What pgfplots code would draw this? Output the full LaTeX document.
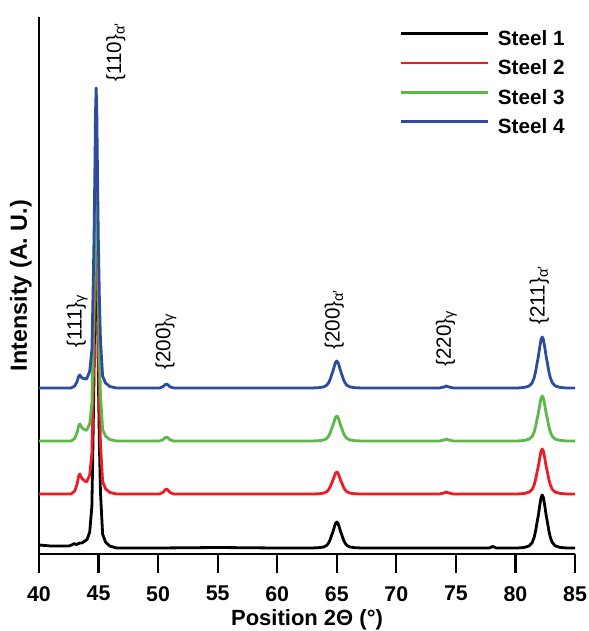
\documentclass[border=0pt]{standalone}
\usepackage{pgfplots}
\pgfplotsset{compat=1.18}
\usepackage{fontspec}
\setmainfont{Liberation Sans}

\definecolor{steelred}{RGB}{237,28,36}
\definecolor{steelgreen}{RGB}{93,184,74}
\definecolor{steelblue}{RGB}{45,75,160}

\begin{document}
\begin{tikzpicture}
\begin{axis}[
    scale only axis,
    width=402pt, height=402.75pt,
    xmin=40, xmax=85, ymin=2, ymax=539,
    axis lines=left,
    axis line style={-, line width=1.8pt},
    xtick={40,45,...,85},
    ytick=\empty,
    tick align=outside,
    major tick length=14pt,
    tick style={line width=1.6pt, black},
    /pgf/number format/assume math mode=true,
    xticklabel style={font=\bfseries\fontsize{16}{19}\selectfont, inner sep=1pt, yshift=-9pt},
    xlabel={\bfseries Position 2Θ (°)},
    ylabel={\bfseries Intensity (A. U.)},
    every axis x label/.style={at={(axis description cs:0.5,-0.134)}, anchor=base, inner sep=0pt, font=\fontsize{16.5}{19}\selectfont},
    every axis y label/.style={at={(axis description cs:-0.0224,0.5)}, rotate=90, anchor=base, inner sep=0pt, font=\fontsize{17.5}{20}\selectfont},
    legend style={at={(0.981,0.972)}, anchor=north east, draw=none, fill=none, inner sep=0pt,
        font=\bfseries\fontsize{15.5}{18}\selectfont,
        nodes={inner sep=0pt, text height=10pt, text depth=0pt},
        row sep=12pt,
        /tikz/every odd column/.append style={column sep=6.75pt}},
    legend cell align=left,
    legend image code/.code={\draw[#1, line width=2pt] (0pt,4pt) -- (65pt,4pt);},
    every axis plot/.append style={line width=2.1pt, line join=round},
    clip=false,
]
% Steel 1
\addplot[black] coordinates {
(40,11) (41,10) (42,10) (42.5,10) (42.75,11) (42.95,12.5) (43.1,11.5) (43.25,12) (43.43,13) (43.6,13)
(43.8,14.5) (43.97,16) (44.05,17) (44.26,24) (44.44,50) (44.53,112) (44.62,182) (44.69,259) (44.746,328)
(44.8,356) (44.854,328) (44.91,259) (44.98,182) (45.07,112) (45.16,64) (45.34,22) (45.58,14) (45.94,10)
(46.5,8) (50,8) (55,8.5) (60,8)
(62.9,8) (63.47,8.3) (63.9,9) (64.15,10.6) (64.32,13.2) (64.45,16.6) (64.575,21) (64.66,23.6) (64.79,28.8)
(64.9,32.7) (65.0,34) (65.1,32.7) (65.21,28.8) (65.34,23.6) (65.425,21) (65.55,16.6) (65.68,13.2)
(65.85,10.6) (66.1,9) (66.53,8.3) (67.1,8) (72,8) (77.8,8) (78.1,9.5) (78.4,8)
(80.15,8) (80.72,8.5) (81.15,10.1) (81.4,13.3) (81.57,18.6) (81.7,25.5) (81.825,34.5) (81.91,39.8)
(82.04,50.4) (82.15,58.4) (82.25,61) (82.35,58.4) (82.46,50.4) (82.59,39.8) (82.675,34.5) (82.8,25.5)
(82.93,18.6) (83.1,13.3) (83.35,10.1) (83.78,8.5) (84.35,8) (85,8)
};
\addlegendentry{Steel 1}
% Steel 2
\addplot[steelred] coordinates {
(40,62) (42.7,62) (43.0,65) (43.2,72) (43.33,80) (43.43,82) (43.53,79) (43.65,77) (43.8,75.6) (43.97,74.1)
(44.05,75.3) (44.26,81.1) (44.44,102.7) (44.53,156.2) (44.62,219) (44.69,288) (44.746,351) (44.8,376)
(44.854,351) (44.91,288) (44.98,219) (45.07,156.2) (45.16,112.2) (45.34,74.6) (45.58,67.3) (45.94,63.6)
(46.5,62) (50.1,62) (50.4,63.5) (50.58,66) (50.7,67) (50.82,66) (51.0,63.5) (51.3,62)
(62.9,62) (63.47,62.2) (63.9,62.9) (64.15,64.2) (64.32,66.4) (64.45,69.3) (64.575,73) (64.66,75.2)
(64.79,79.6) (64.9,82.9) (65.0,84) (65.1,82.9) (65.21,79.6) (65.34,75.2) (65.425,73) (65.55,69.3)
(65.68,66.4) (65.85,64.2) (66.1,62.9) (66.53,62.2) (67.1,62) (73.6,62) (74.0,63) (74.2,64) (74.4,63) (74.8,62)
(80.15,62) (80.72,62.5) (81.15,63.8) (81.4,66.5) (81.57,71) (81.7,76.9) (81.825,84.5) (81.91,89) (82.04,98)
(82.15,104.8) (82.25,107) (82.35,104.8) (82.46,98) (82.59,89) (82.675,84.5) (82.8,76.9) (82.93,71)
(83.1,66.5) (83.35,63.8) (83.78,62.5) (84.35,62) (85,62)
};
\addlegendentry{Steel 2}
% Steel 3
\addplot[steelgreen] coordinates {
(40,115) (42.7,115) (43.0,117.6) (43.2,123.5) (43.33,130.3) (43.43,132) (43.53,129.5) (43.65,127.8)
(43.8,126.7) (43.97,125.6) (44.05,126.8) (44.26,132.4) (44.44,152.5) (44.53,202.3) (44.62,260.5)
(44.69,324.5) (44.746,382.7) (44.8,406) (44.854,382.7) (44.91,324.5) (44.98,260.5) (45.07,202.3)
(45.16,161.6) (45.34,126.6) (45.58,119.9) (45.94,116.5) (46.5,115) (50.1,115) (50.4,116.2) (50.58,118.2)
(50.7,119) (50.82,118.2) (51.0,116.2) (51.3,115)
(62.9,115) (63.47,115.3) (63.9,116) (64.15,117.5) (64.32,120) (64.45,123.3) (64.575,127.5) (64.66,130)
(64.79,135) (64.9,138.8) (65.0,140) (65.1,138.8) (65.21,135) (65.34,130) (65.425,127.5) (65.55,123.3)
(65.68,120) (65.85,117.5) (66.1,116) (66.53,115.3) (67.1,115) (73.6,115) (74.0,116) (74.2,117)
(74.4,116) (74.8,115)
(80.15,115) (80.72,115.5) (81.15,116.8) (81.4,119.5) (81.57,124) (81.7,129.9) (81.825,137.5) (81.91,142)
(82.04,151) (82.15,157.8) (82.25,160) (82.35,157.8) (82.46,151) (82.59,142) (82.675,137.5) (82.8,129.9)
(82.93,124) (83.1,119.5) (83.35,116.8) (83.78,115.5) (84.35,115) (85,115)
};
\addlegendentry{Steel 3}
% Steel 4
\addplot[steelblue] coordinates {
(40,168) (42.7,168) (43.0,170) (43.2,174.5) (43.33,179.7) (43.43,181) (43.53,179) (43.65,177.8)
(43.8,177.3) (43.97,176.9) (44.05,178.6) (44.26,184.8) (44.44,206) (44.53,258) (44.62,318) (44.69,384)
(44.746,444) (44.8,468) (44.854,444) (44.91,384) (44.98,318) (45.07,258) (45.16,216) (45.34,180)
(45.58,173.1) (45.94,169.5) (46.5,168) (50.1,168) (50.4,169.2) (50.58,171.2) (50.7,172) (50.82,171.2)
(51.0,169.2) (51.3,168)
(62.9,168) (63.47,168.3) (63.9,169.1) (64.15,170.7) (64.32,173.4) (64.45,176.9) (64.575,181.5)
(64.66,184.2) (64.79,189.6) (64.9,193.7) (65.0,195) (65.1,193.7) (65.21,189.6) (65.34,184.2)
(65.425,181.5) (65.55,176.9) (65.68,173.4) (65.85,170.7) (66.1,169.1) (66.53,168.3) (67.1,168)
(73.6,168) (74.0,169) (74.2,170) (74.4,169) (74.8,168)
(80.15,168) (80.72,168.5) (81.15,170) (81.4,173.1) (81.57,178.2) (81.7,184.8) (81.825,193.5)
(81.91,198.6) (82.04,208.8) (82.15,216.5) (82.25,219) (82.35,216.5) (82.46,208.8) (82.59,198.6)
(82.675,193.5) (82.8,184.8) (82.93,178.2) (83.1,173.1) (83.35,170) (83.78,168.5) (84.35,168) (85,168)
};
\addlegendentry{Steel 4}
% peak labels
\begin{scope}[every node/.style={rotate=90, anchor=west, inner sep=0pt, font=\fontsize{15.5}{18}\selectfont}]
\node at (axis cs:43.2,208) {\{111\}\textsubscript{γ}};
\node at (axis cs:46.45,474) {\{110\}\textsubscript{α′}};
\node at (axis cs:50.65,186) {\{200\}\textsubscript{γ}};
\node at (axis cs:64.8,206) {\{200\}\textsubscript{α′}};
\node at (axis cs:74.2,189) {\{220\}\textsubscript{γ}};
\node at (axis cs:82.0,231) {\{211\}\textsubscript{α′}};
\end{scope}
\end{axis}
\path ([shift={(-29.25pt,-57.75pt)}]current axis.south west) rectangle ++(441pt,473.25pt);
\end{tikzpicture}
\end{document}
